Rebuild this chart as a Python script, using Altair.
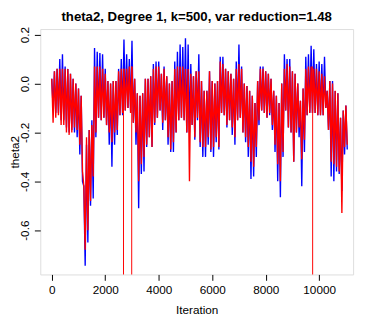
import altair as alt
import pandas as pd

ITER = list(range(0, 11001, 100))

RED_HI = [0.02, 0.05, 0.06, 0.06, 0.06, 0.06, 0.06, 0.04, 0.02, 0.00,
          -0.02, -0.05, -0.42, -0.22, -0.19, -0.17, 0.07, 0.07, 0.07, 0.06,
          0.04, 0.01, 0.00, 0.01, 0.01, 0.05, 0.06, 0.06, 0.06, 0.07,
          0.07, 0.02, -0.04, -0.05, -0.04, 0.02, 0.02, 0.03, 0.06, 0.07,
          0.07, 0.04, 0.06, 0.03, 0.00, 0.01, 0.06, 0.07, 0.07, 0.07,
          0.06, 0.06, 0.04, 0.03, 0.05, 0.05, 0.01, -0.03, -0.03, 0.05,
          0.01, 0.00, 0.01, 0.09, 0.08, 0.06, 0.05, 0.04, 0.02, 0.06,
          0.08, 0.06, 0.00, -0.01, -0.03, -0.05, -0.08, 0.01, 0.06, 0.06,
          0.05, 0.04, 0.02, -0.03, -0.05, -0.08, 0.00, 0.06, 0.08, 0.07,
          0.05, 0.04, 0.00, -0.07, -0.02, 0.06, 0.07, 0.07, 0.06, 0.06,
          0.05, 0.04, 0.03, -0.03, 0.01, 0.00, -0.03, -0.04, -0.14, -0.11, -0.09]
RED_LO = [-0.16, -0.14, -0.13, -0.17, -0.17, -0.20, -0.21, -0.20, -0.18, -0.19,
          -0.25, -0.36, -0.68, -0.60, -0.48, -0.38, -0.20, -0.14, -0.15, -0.14,
          -0.17, -0.20, -0.24, -0.20, -0.19, -0.13, -0.12, -0.11, -0.10, -0.12,
          -0.16, -0.20, -0.40, -0.33, -0.30, -0.25, -0.22, -0.26, -0.16, -0.14,
          -0.11, -0.16, -0.15, -0.22, -0.27, -0.24, -0.20, -0.15, -0.14, -0.15,
          -0.20, -0.40, -0.17, -0.22, -0.14, -0.24, -0.26, -0.26, -0.22, -0.27,
          -0.26, -0.22, -0.26, -0.12, -0.13, -0.17, -0.15, -0.18, -0.22, -0.15,
          -0.14, -0.20, -0.22, -0.26, -0.32, -0.34, -0.26, -0.15, -0.11, -0.12,
          -0.14, -0.12, -0.17, -0.25, -0.33, -0.40, -0.28, -0.11, -0.18, -0.20,
          -0.32, -0.20, -0.18, -0.31, -0.23, -0.13, -0.12, -0.12, -0.12, -0.13,
          -0.13, -0.13, -0.10, -0.19, -0.32, -0.33, -0.34, -0.36, -0.53, -0.26, -0.25]
BLUE_HI = [0.02, 0.05, 0.06, 0.10, 0.12, 0.07, 0.06, 0.04, 0.02, 0.00,
           -0.02, -0.05, -0.42, -0.25, -0.19, -0.15, 0.145, 0.13, 0.125, 0.12,
           0.06, 0.01, 0.00, 0.01, 0.01, 0.06, 0.10, 0.18, 0.12, 0.10,
           0.175, 0.02, -0.04, -0.05, -0.04, 0.02, 0.02, 0.03, 0.08, 0.09,
           0.09, 0.04, 0.07, 0.03, 0.00, 0.01, 0.09, 0.13, 0.16, 0.15,
           0.185, 0.16, 0.08, 0.03, 0.05, 0.12, 0.01, -0.03, -0.03, 0.05,
           0.01, 0.00, 0.01, 0.11, 0.11, 0.06, 0.05, 0.04, 0.02, 0.09,
           0.16, 0.07, 0.00, -0.01, -0.03, -0.05, -0.08, 0.01, 0.07, 0.07,
           0.05, 0.04, 0.02, -0.03, -0.05, -0.08, 0.00, 0.12, 0.10, 0.10,
           0.05, 0.04, 0.00, -0.07, -0.02, 0.11, 0.12, 0.155, 0.14, 0.08,
           0.09, 0.08, 0.11, -0.03, 0.01, 0.01, -0.03, -0.04, -0.14, -0.11, -0.09]
BLUE_LO = [-0.10, -0.12, -0.12, -0.15, -0.15, -0.18, -0.20, -0.19, -0.20, -0.22,
           -0.29, -0.40, -0.745, -0.65, -0.50, -0.47, -0.22, -0.14, -0.15, -0.14,
           -0.17, -0.25, -0.34, -0.25, -0.21, -0.13, -0.13, -0.11, -0.10, -0.12,
           -0.16, -0.25, -0.51, -0.37, -0.36, -0.26, -0.22, -0.26, -0.17, -0.14,
           -0.11, -0.19, -0.15, -0.25, -0.28, -0.28, -0.20, -0.15, -0.14, -0.15,
           -0.20, -0.20, -0.17, -0.23, -0.15, -0.26, -0.30, -0.30, -0.25, -0.28,
           -0.30, -0.24, -0.27, -0.12, -0.13, -0.18, -0.15, -0.21, -0.25, -0.15,
           -0.14, -0.20, -0.24, -0.30, -0.39, -0.38, -0.30, -0.17, -0.11, -0.12,
           -0.14, -0.13, -0.19, -0.28, -0.40, -0.465, -0.30, -0.11, -0.18, -0.20,
           -0.32, -0.20, -0.22, -0.42, -0.28, -0.13, -0.12, -0.12, -0.12, -0.13,
           -0.13, -0.13, -0.10, -0.19, -0.38, -0.40, -0.36, -0.37, -0.44, -0.29, -0.27]

# single red samples far below the visible range
SPIKE_ITER = [2683, 2990, 9757]
SPIKE_TOP = [0.06, 0.07, 0.07]
SPIKE_BOTTOM = [-1.5, -1.5, -1.5]

X_TICKS = [0, 2000, 4000, 6000, 8000, 10000]
Y_TICKS = [-0.6, -0.4, -0.2, 0.0, 0.2]

rows = []
for name, hi, lo in (("blue", BLUE_HI, BLUE_LO), ("red", RED_HI, RED_LO)):
    for i, it in enumerate(ITER):
        rows.append({"iter": it, "val": hi[i], "series": name})
        rows.append({"iter": it + 50, "val": lo[i], "series": name})
df = pd.DataFrame(rows)
blue_df = df[df.series == "blue"]
red_df = df[df.series == "red"]
spikes = pd.DataFrame({"iter": SPIKE_ITER, "top": SPIKE_TOP, "bottom": SPIKE_BOTTOM})

FONT = "Liberation Sans"
xscale = alt.Scale(domain=[-430, 11270], nice=False, zero=False)
yscale = alt.Scale(domain=[-0.781, 0.223], nice=False, zero=False)

xaxis = alt.Axis(values=X_TICKS, title="Iteration", grid=False, domain=False,
                 format="d",
                 tickSize=6, tickColor="black", labelColor="black",
                 labelFont=FONT, labelFontSize=12, labelBaseline="alphabetic",
                 labelPadding=14, labelFlush=False, labelOverlap=False,
                 titleFont=FONT, titleFontSize=12, titleFontWeight="normal",
                 titleColor="black", titleBaseline="alphabetic", titleY=39.5)
yaxis = alt.Axis(values=Y_TICKS, title="theta2", grid=False, domain=False,
                 tickSize=6, tickColor="black", labelColor="black",
                 labelFont=FONT, labelFontSize=12, labelAngle=-90,
                 labelAlign="center", labelBaseline="alphabetic", labelPadding=5.7,
                 labelFlush=False, labelOverlap=False,
                 labelExpr="(datum.value < 0 ? '-' : '') + format(abs(datum.value), '.1f')",
                 titleFont=FONT, titleFontSize=12, titleFontWeight="normal",
                 titleColor="black", titleBaseline="alphabetic", titleAngle=-90,
                 titleX=-22, titleY=125.5)

blue = alt.Chart(blue_df).mark_line(color="#0000FF", strokeWidth=1.4, clip=True).encode(
    x=alt.X("iter:Q", scale=xscale, axis=xaxis),
    y=alt.Y("val:Q", scale=yscale, axis=yaxis),
)
red = alt.Chart(red_df).mark_line(color="#FF0000", strokeWidth=1.4, clip=True).encode(
    x=alt.X("iter:Q", scale=xscale),
    y=alt.Y("val:Q", scale=yscale),
)
spk = alt.Chart(spikes).mark_rule(color="#FF0000", strokeWidth=1, clip=True).encode(
    x=alt.X("iter:Q", scale=xscale),
    y=alt.Y("top:Q", scale=yscale),
    y2="bottom:Q",
)

chart = alt.layer(blue, red, spk).properties(
    width=320, height=251,
    title=alt.TitleParams("theta2, Degree 1, k=500, var reduction=1.48",
                          font=FONT, fontSize=13.5, fontWeight="bold", color="black",
                          anchor="middle", frame="group", baseline="alphabetic",
                          offset=6.3, dy=14),
    autosize=alt.AutoSizeParams(type="none"),
    padding={"left": 33, "top": 18, "right": 5, "bottom": 40},
).configure_view(stroke="black", strokeWidth=1).configure(background="white")

chart.save("out.html", embed_options={"renderer": "svg", "actions": False})
